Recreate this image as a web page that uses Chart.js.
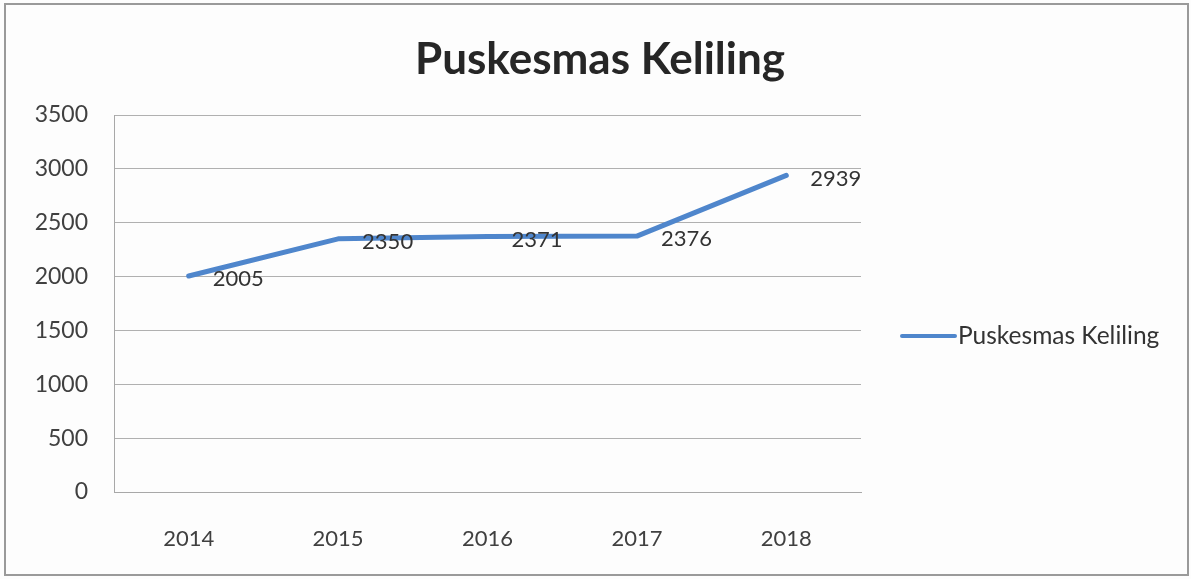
<!DOCTYPE html>
<html>
<head>
<meta charset="utf-8">
<script src="https://cdn.jsdelivr.net/npm/chart.js@4"></script>
<style>
html,body{margin:0;padding:0;background:#fdfdfd;}
#wrap{width:1191px;height:579px;position:relative;}
</style>
</head>
<body>
<div id="wrap"><canvas id="c" width="1191" height="579"></canvas></div>
<script>
const categories = ['2014', '2015', '2016', '2017', '2018'];
const seriesName = 'Puskesmas Keliling';
const values = [2005, 2350, 2371, 2376, 2939];
const yTicks = [0, 500, 1000, 1500, 2000, 2500, 3000, 3500];
const chartTitle = 'Puskesmas Keliling';

const FONT = 'Lato, "Open Sans", sans-serif';
const LINE = '#4F86CC';

const decor = {
  id: 'decor',
  beforeDraw(chart) {
    const ctx = chart.ctx;
    ctx.save();
    ctx.fillStyle = '#fdfdfd';
    ctx.fillRect(0, 0, chart.width, chart.height);
    ctx.strokeStyle = '#9a9a9a';
    ctx.lineWidth = 2;
    ctx.strokeRect(5, 4, 1183, 571);
    ctx.restore();
  },
  afterDraw(chart) {
    const ctx = chart.ctx;
    ctx.save();
    // title
    ctx.fillStyle = '#262626';
    ctx.font = 'bold 44px ' + FONT;
    ctx.textAlign = 'center';
    ctx.textBaseline = 'middle';
    ctx.fillText(chartTitle, 600, 60);
    // data labels
    const meta = chart.getDatasetMeta(0);
    ctx.font = '22px ' + FONT;
    ctx.fillStyle = '#333333';
    ctx.textAlign = 'left';
    meta.data.forEach((pt, i) => {
      ctx.fillText(String(values[i]), pt.x + 24, pt.y + 3);
    });
    // legend
    ctx.strokeStyle = LINE;
    ctx.lineWidth = 4;
    ctx.lineCap = 'round';
    ctx.beginPath();
    ctx.moveTo(902, 336);
    ctx.lineTo(955, 336);
    ctx.stroke();
    ctx.fillStyle = '#333333';
    ctx.font = '24.5px ' + FONT;
    ctx.fillText(seriesName, 958, 336);
    ctx.restore();
  }
};

new Chart(document.getElementById('c'), {
  type: 'line',
  data: {
    labels: categories,
    datasets: [{
      label: seriesName,
      data: values,
      borderColor: LINE,
      backgroundColor: LINE,
      borderWidth: 5,
      pointRadius: 0,
      tension: 0,
      borderCapStyle: 'round',
      borderJoinStyle: 'round'
    }]
  },
  options: {
    responsive: false,
    animation: false,
    devicePixelRatio: 1,
    layout: { padding: { top: 115, right: 330, left: 0, bottom: 0 } },
    plugins: { legend: { display: false }, title: { display: false }, tooltip: { enabled: false } },
    scales: {
      x: {
        offset: true,
        grid: { display: false, drawTicks: false },
        border: { display: true, color: '#a8a8a8', width: 1 },
        ticks: { color: '#404040', font: { family: FONT, size: 22 }, padding: 34, maxRotation: 0 },
        afterFit(s) { s.height = 87; }
      },
      y: {
        min: 0, max: 3500,
        afterBuildTicks(s) { s.ticks = yTicks.map(v => ({ value: v })); },
        grid: { color: '#b0b0b0', lineWidth: 1, drawTicks: false },
        border: { display: true, color: '#a8a8a8', width: 1 },
        ticks: { color: '#404040', font: { family: FONT, size: 23 }, padding: 26, callback: v => String(v) },
        afterFit(s) { s.width = 114; }
      }
    }
  },
  plugins: [decor]
});
</script>
</body>
</html>
